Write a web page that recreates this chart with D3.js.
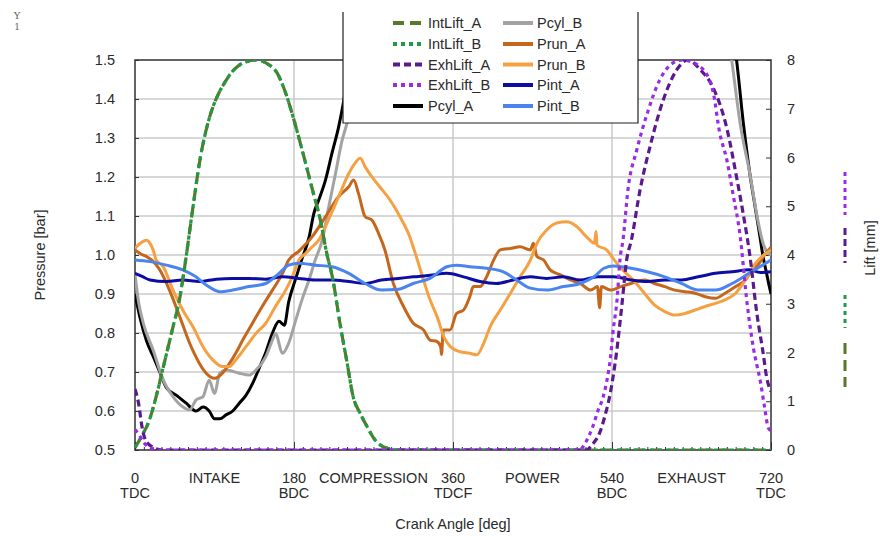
<!DOCTYPE html>
<html>
<head>
<meta charset="utf-8">
<script src="https://cdn.jsdelivr.net/npm/d3@7"></script>
<style>
  html, body { margin: 0; padding: 0; background: #fff; }
  svg { display: block; font-family: "Liberation Sans", Arial, sans-serif; }
</style>
</head>
<body>
<svg id="chart" width="880" height="536"></svg>
<script>
// ---- axis ticks and labels ----
const pressureTicks = [0.5, 0.6, 0.7, 0.8, 0.9, 1.0, 1.1, 1.2, 1.3, 1.4, 1.5];
const liftTicks = [0, 1, 2, 3, 4, 5, 6, 7, 8];
const angleTicks = [0, 180, 360, 540, 720];
const angleTopLabels = ["0", "180", "360", "540", "720"];
const angleBottomLabels = ["TDC", "BDC", "TDCF", "BDC", "TDC"];
const strokeAngles = [90, 270, 450, 630];
const strokeNames = ["INTAKE", "COMPRESSION", "POWER", "EXHAUST"];

// ---- valve lift [mm] vs crank angle [deg] ----
const intLiftA = [[0,0.05],[8,0.3],[16,0.6],[24,1.1],[32,1.7],[42,2.45],[51,3.15],[57,3.85],[65,4.9],[74,6.0],[84,6.8],[93,7.25],[102,7.55],[111,7.78],[125,7.96],[138,8.0],[150,7.92],[161,7.73],[170,7.35],[179,6.83],[190,6.1],[201,5.33],[210,4.7],[217,4.04],[224,3.5],[232,2.6],[240,1.8],[247,1.09],[255,0.75],[263,0.47],[272,0.2],[285,0.04],[300,0],[720,0]];
const intLiftB = [[0,0.05],[8,0.3],[16,0.6],[24,1.1],[32,1.7],[42,2.45],[51,3.15],[57,3.85],[65,4.9],[74,6.0],[84,6.8],[93,7.25],[102,7.55],[111,7.78],[125,7.96],[138,8.0],[150,7.92],[161,7.73],[170,7.35],[179,6.83],[190,6.1],[201,5.33],[210,4.7],[217,4.04],[224,3.5],[232,2.6],[240,1.8],[247,1.09],[255,0.75],[263,0.47],[272,0.2],[285,0.04],[300,0],[720,0]];
const exhLiftA = [[0,1.25],[4,0.96],[8,0.47],[12,0.2],[20,0.06],[30,0],[511,0],[518,0.12],[526,0.35],[532,0.7],[538,1.16],[545,1.98],[551,2.94],[556.6,3.9],[562,4.31],[571.7,5.33],[583,6.22],[598,7.18],[613,7.79],[626,8.0],[640,7.8],[654,7.45],[670,6.6],[681,5.6],[688,4.9],[696,4.0],[704,2.8],[711,2.0],[715,1.5],[720,1.2]];
const exhLiftB = [[0,0.42],[5,0.3],[10,0.15],[18,0.04],[25,0],[503,0],[510,0.15],[518,0.47],[524,0.8],[530,1.09],[535,1.5],[538,1.85],[541,2.4],[546,3.14],[549,3.9],[552.5,4.31],[558,5.33],[568,6.15],[580,6.91],[594,7.59],[609,7.94],[620,8.0],[640,7.86],[654,7.38],[662,6.5],[670,5.95],[677,5.25],[685,4.4],[693,3.0],[700,2.1],[708,1.4],[713,0.85],[717,0.45],[720,0.4]];

// ---- pressures [bar] vs crank angle [deg]; null marks a break above the plot ----
const pcylA = [[0,0.90],[5.6,0.84],[13,0.78],[20.6,0.74],[28,0.70],[35.6,0.66],[47,0.64],[58,0.62],[69,0.60],[77,0.61],[84,0.60],[90,0.58],[96,0.58],[103,0.59],[110.6,0.60],[118,0.62],[125.6,0.64],[133,0.67],[140.6,0.71],[148,0.75],[155.6,0.80],[163,0.83],[169,0.82],[174,0.88],[182,0.94],[189,0.99],[197,1.045],[202.5,1.107],[208,1.141],[215.6,1.192],[223,1.261],[230.6,1.329],[235.8,1.389],[241,1.46],[247,1.56],null,[676,1.58],[681,1.50],[688.7,1.338],[696,1.209],[702,1.124],[707.5,1.047],[711,0.996],[715,0.953],[718,0.92],[720,0.90]];
const pcylB = [[0,0.95],[4,0.88],[9.4,0.825],[20.6,0.756],[32,0.679],[43,0.637],[54,0.611],[62,0.603],[69,0.628],[77,0.637],[84,0.679],[90,0.645],[96,0.697],[103,0.705],[118,0.697],[129,0.692],[137,0.705],[148,0.739],[155.6,0.782],[159,0.799],[167,0.748],[174,0.774],[182,0.833],[189,0.885],[197,0.936],[204,0.987],[212,1.038],[219.4,1.124],[227,1.209],[234.6,1.295],[240,1.338],[250,1.45],[258,1.56],null,[671,1.57],[675.5,1.50],[685,1.338],[696,1.209],[705,1.09],[711,1.03],[717,1.004],[720,1.0]];
const prunA = [[0,1.013],[5.6,1.004],[13,0.996],[20,0.985],[28,0.962],[39,0.910],[50.6,0.842],[62,0.773],[73,0.722],[80.6,0.697],[90,0.684],[99,0.697],[107,0.722],[114,0.748],[122,0.782],[133,0.825],[144,0.868],[155.6,0.910],[167,0.953],[174,0.987],[185.6,1.010],[200.6,1.047],[215.6,1.098],[230.6,1.150],[242,1.175],[247.5,1.192],[253,1.158],[260.6,1.098],[268,1.090],[275.6,1.056],[283,1.012],[292.5,0.927],[304,0.868],[315,0.825],[326.6,0.808],[334,0.782],[342,0.778],[346,0.765],[347,0.745],[349,0.808],[356.7,0.808],[364,0.850],[372,0.859],[379,0.893],[383,0.919],[390.6,0.919],[398,0.944],[406,0.987],[413.5,1.013],[425,1.017],[436,1.021],[447.6,1.013],[451,1.030],[455,0.996],[462.6,0.987],[470,0.962],[481.6,0.949],[493,0.936],[504,0.927],[516,0.910],[523.5,0.919],[526,0.865],[528,0.919],[538.6,0.910],[550,0.919],[561.6,0.927],[576.7,0.936],[588,0.927],[599.7,0.919],[611,0.910],[622.6,0.906],[634,0.902],[645.6,0.893],[657,0.889],[668,0.902],[680,0.919],[691,0.936],[699,0.962],[706.6,0.979],[714,1.004],[720,1.02]];
const prunB = [[0,1.017],[6,1.03],[13,1.038],[17,1.03],[20.6,1.013],[24,0.987],[32,0.970],[43,0.910],[54,0.859],[65.6,0.816],[77,0.765],[88,0.731],[99,0.714],[107,0.714],[114,0.731],[125.6,0.765],[137,0.799],[148,0.825],[159,0.868],[170.6,0.910],[178,0.944],[185.6,0.987],[193,1.004],[200.6,1.021],[208,1.038],[219,1.090],[230.6,1.150],[242,1.209],[249,1.235],[255,1.248],[260.6,1.226],[268,1.201],[277,1.175],[288.7,1.141],[300,1.098],[311,1.047],[319,0.992],[326.6,0.936],[334,0.885],[342,0.842],[349.5,0.791],[357,0.765],[368,0.752],[379,0.748],[387,0.744],[394.6,0.773],[402,0.816],[413.5,0.859],[425,0.902],[436,0.944],[447.6,0.987],[455,1.030],[466,1.064],[477.5,1.082],[488.7,1.085],[500,1.073],[511,1.047],[520,1.030],[522,1.060],[523,1.025],[534,1.013],[541,0.992],[552,0.962],[564,0.936],[576.7,0.902],[588,0.872],[599.7,0.855],[611,0.846],[622.6,0.850],[634,0.859],[645.6,0.868],[657,0.876],[668,0.885],[680,0.902],[691,0.936],[702.6,0.979],[714,1.004],[720,1.013]];
const pintA = [[0,0.953],[8,0.945],[17,0.936],[35.6,0.932],[54,0.936],[73,0.932],[92,0.938],[110.6,0.940],[129,0.940],[148,0.938],[167,0.944],[185.6,0.940],[204,0.936],[223,0.936],[242,0.932],[260.6,0.927],[279,0.936],[298,0.940],[315,0.944],[334,0.948],[353,0.953],[372,0.944],[390.6,0.932],[409,0.927],[428,0.936],[447.6,0.944],[466,0.940],[485,0.944],[504,0.936],[523.5,0.944],[542,0.944],[561.6,0.936],[580,0.932],[599.7,0.936],[618.6,0.936],[637.5,0.944],[657,0.953],[676,0.957],[695,0.962],[708,0.955],[720,0.957]];
const pintB = [[0,0.987],[17,0.983],[35.6,0.974],[54,0.962],[69,0.944],[80.6,0.923],[96,0.906],[110.6,0.910],[129,0.919],[148,0.927],[163,0.953],[174,0.974],[185.6,0.979],[204,0.974],[223,0.970],[242,0.953],[260.6,0.927],[279,0.910],[298,0.912],[315,0.927],[334,0.940],[353,0.970],[364,0.974],[379,0.970],[398,0.966],[417,0.957],[432,0.936],[447.6,0.915],[466,0.910],[485,0.919],[504,0.927],[519.6,0.944],[530.9,0.966],[542,0.972],[561.6,0.966],[580,0.957],[599.7,0.944],[618.6,0.927],[637.5,0.910],[657,0.910],[676,0.927],[695,0.953],[720,0.987]];

// ---- series styling ----
const seriesNames = ["IntLift_A","IntLift_B","ExhLift_A","ExhLift_B","Pcyl_A","Pcyl_B","Prun_A","Prun_B","Pint_A","Pint_B"];
const seriesData = [intLiftA, intLiftB, exhLiftA, exhLiftB, pcylA, pcylB, prunA, prunB, pintA, pintB];
const seriesColors = ["#56792a","#1f9a45","#5a1a8e","#9b2ae6","#000000","#a3a3a3","#c4661c","#f4a043","#0d0da4","#4a84ee"];
const seriesDash = ["11,6","4,4","7,4","4,4",null,null,null,null,null,null];
const seriesOnLift = [true,true,true,true,false,false,false,false,false,false];

const svg = d3.select("#chart");
const plotL = 135, plotR = 771, plotT = 60, plotB = 450;

const x = d3.scaleLinear().domain([0, 720]).range([plotL, plotR]);
const yP = d3.scaleLinear().domain([0.5, 1.5]).range([plotB, plotT]);
const yL = d3.scaleLinear().domain([0, 8]).range([plotB, plotT]);

const textColor = "#2a2a2a";
const fontSize = 14.5;

// top-left marker
svg.append("text").attr("x", 17).attr("y", 19).attr("text-anchor", "middle")
  .attr("font-size", 10).attr("fill", "#666").attr("font-family", "DejaVu Serif, serif").text("Y");
svg.append("text").attr("x", 17).attr("y", 30).attr("text-anchor", "middle")
  .attr("font-size", 9).attr("fill", "#666").attr("font-family", "DejaVu Serif, serif").text("1");

// gridlines
const grid = svg.append("g").attr("stroke", "#cacaca").attr("stroke-width", 1.5);
grid.selectAll("line.h").data(pressureTicks.slice(1, -1)).join("line")
  .attr("x1", plotL).attr("x2", plotR)
  .attr("y1", d => yP(d)).attr("y2", d => yP(d));
grid.selectAll("line.v").data(angleTicks.slice(1, -1)).join("line")
  .attr("y1", plotT).attr("y2", plotB)
  .attr("x1", d => x(d)).attr("x2", d => x(d));

// left pressure axis
const axL = svg.append("g").attr("transform", `translate(${plotL},0)`)
  .call(d3.axisLeft(yP).tickValues(pressureTicks).tickFormat(d3.format(".1f"))
    .tickSizeInner(-4).tickSizeOuter(0).tickPadding(20));
axL.select(".domain").remove();
axL.selectAll("line").attr("stroke", "#333");
axL.selectAll("text").attr("font-size", fontSize).attr("fill", textColor).attr("font-family", null);

// right lift axis
const axR = svg.append("g").attr("transform", `translate(${plotR},0)`)
  .call(d3.axisRight(yL).tickValues(liftTicks).tickFormat(d3.format("d"))
    .tickSizeInner(-5).tickSizeOuter(0).tickPadding(16));
axR.select(".domain").remove();
axR.selectAll("line").attr("stroke", "#333");
axR.selectAll("text").attr("font-size", fontSize).attr("fill", textColor).attr("font-family", null);

// bottom ticks: minor every 10 deg, major every 180 deg, pointing up
const minorTicks = d3.range(0, 721, 10);
const axB = svg.append("g").attr("transform", `translate(0,${plotB})`)
  .call(d3.axisBottom(x).tickValues(minorTicks).tickFormat("").tickSizeInner(-3).tickSizeOuter(0));
axB.select(".domain").remove();
axB.selectAll("line").attr("stroke", "#333");
const axB2 = svg.append("g").attr("transform", `translate(0,${plotB})`)
  .call(d3.axisBottom(x).tickValues(angleTicks).tickFormat("").tickSizeInner(-8).tickSizeOuter(0));
axB2.select(".domain").remove();
axB2.selectAll("line").attr("stroke", "#333");

// plot frame
svg.append("rect").attr("x", plotL).attr("y", plotT).attr("width", plotR - plotL).attr("height", plotB - plotT)
  .attr("fill", "none").attr("stroke", "#303030").attr("stroke-width", 1.5);

// bottom labels
const lab = svg.append("g").attr("font-size", fontSize).attr("fill", textColor).attr("text-anchor", "middle");
lab.selectAll("text.t1").data(angleTicks).join("text")
  .attr("x", d => x(d)).attr("y", 483).text((d, i) => angleTopLabels[i]);
lab.selectAll("text.t2").data(angleTicks).join("text")
  .attr("x", d => x(d)).attr("y", 498).text((d, i) => angleBottomLabels[i]);
lab.selectAll("text.s").data(strokeAngles).join("text")
  .attr("x", d => x(d)).attr("y", 483).text((d, i) => strokeNames[i]);
lab.append("text").attr("x", x(360)).attr("y", 529).text("Crank Angle [deg]");

// axis titles
svg.append("text").attr("transform", "translate(45,255) rotate(-90)")
  .attr("text-anchor", "middle").attr("font-size", fontSize).attr("fill", textColor).text("Pressure [bar]");
svg.append("text").attr("transform", "translate(875,248) rotate(-90)")
  .attr("text-anchor", "middle").attr("font-size", fontSize).attr("fill", textColor).text("Lift [mm]");

// series keys beside the lift axis title (lift series only)
const liftKeyIdx = [3, 2, 1, 0];
const liftKeySpans = [[172, 215], [228, 263], [295, 328], [343, 387]];
svg.append("g").selectAll("line").data(liftKeyIdx).join("line")
  .attr("x1", 845).attr("x2", 845)
  .attr("y1", (d, i) => liftKeySpans[i][0]).attr("y2", (d, i) => liftKeySpans[i][1])
  .attr("stroke", d => seriesColors[d]).attr("stroke-width", 3)
  .attr("stroke-dasharray", d => seriesDash[d]);

// curves, clipped to the plot area
svg.append("clipPath").attr("id", "plotClip").append("rect")
  .attr("x", plotL).attr("y", plotT).attr("width", plotR - plotL).attr("height", plotB - plotT);
const plot = svg.append("g").attr("clip-path", "url(#plotClip)");

const lineFor = (yScale) => d3.line()
  .defined(d => d != null)
  .x(d => x(d[0])).y(d => yScale(d[1]))
  .curve(d3.curveMonotoneX);

// pressures first, lifts drawn on top
const drawOrder = [4, 5, 6, 7, 8, 9, 0, 1, 2, 3];
plot.selectAll("path").data(drawOrder).join("path")
  .attr("d", i => lineFor(seriesOnLift[i] ? yL : yP)(seriesData[i]))
  .attr("fill", "none")
  .attr("stroke", i => seriesColors[i])
  .attr("stroke-width", i => seriesOnLift[i] ? 3.2 : 3)
  .attr("stroke-dasharray", i => seriesDash[i])
  .attr("stroke-linejoin", "round");

// legend
const lg = svg.append("g");
lg.append("rect").attr("x", 343).attr("y", 12).attr("width", 295).attr("height", 111).attr("fill", "#fff");
lg.append("path").attr("d", "M343,12V123H638V12").attr("fill", "none").attr("stroke", "#202020").attr("stroke-width", 1.2);
const rowY = [23, 44, 64.5, 85, 106];
const legendItems = seriesNames.map((name, i) => ({ name, i, col: i < 5 ? 0 : 1, row: i % 5 }));
const colSampleX = [393, 503], colTextX = [428, 537];
const items = lg.selectAll("g.item").data(legendItems).join("g");
items.append("line")
  .attr("x1", d => colSampleX[d.col]).attr("x2", d => colSampleX[d.col] + 30)
  .attr("y1", d => rowY[d.row]).attr("y2", d => rowY[d.row])
  .attr("stroke", d => seriesColors[d.i]).attr("stroke-width", 4)
  .attr("stroke-dasharray", d => seriesDash[d.i]);
items.append("text")
  .attr("x", d => colTextX[d.col]).attr("y", d => rowY[d.row] + 5.2)
  .attr("font-size", fontSize).attr("fill", textColor).text(d => d.name);
</script>
</body>
</html>
